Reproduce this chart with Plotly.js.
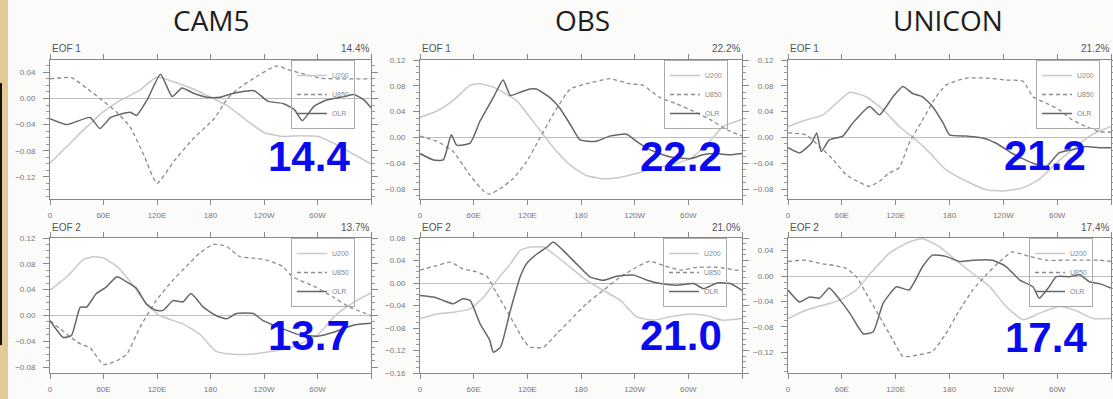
<!DOCTYPE html>
<html>
<head>
<meta charset="utf-8">
<script src="https://cdn.plot.ly/plotly-3.0.1.min.js"></script>
<style>
  html, body { margin: 0; padding: 0; background: #fbfbfa; }
  #chart { width: 1113px; height: 399px; }
</style>
</head>
<body>
<div id="chart"></div>
<script>
// ---------------- DATA ----------------
const panelTitles = ["CAM5", "OBS", "UNICON"];
const eofLabels = ["EOF 1", "EOF 2"];
const percentTexts = ["14.4%", "22.2%", "21.2%", "13.7%", "21.0%", "17.4%"];
const bigNumbers = ["14.4", "22.2", "21.2", "13.7", "21.0", "17.4"];
const seriesNames = ["U200", "U850", "OLR"];
const lonTickVals = [0, 60, 120, 180, 240, 300, 360];
const lonTickText = ["0", "60E", "120E", "180", "120W", "60W", ""];

// CAM5 EOF1
const cam5Eof1U200Lon = [0,20,40,60,80,100,120,140,160,180,200,220,240,260,280,300,320,340,360];
const cam5Eof1U200 = [-0.099,-0.072,-0.045,-0.02,-0.002,0.012,0.033,0.025,0.015,0.002,-0.012,-0.033,-0.052,-0.058,-0.057,-0.058,-0.07,-0.085,-0.1];
const cam5Eof1U850Lon = [0,24,41,56,75,90,105,120,139,161,184,199,214,232,247,255,270,289,304,330,360];
const cam5Eof1U850 = [0.03,0.032,0.016,0,-0.021,-0.044,-0.086,-0.13,-0.096,-0.061,-0.031,0,0.018,0.034,0.046,0.05,0.043,0.036,0.031,0.03,0.03];
const cam5Eof1OlrLon = [0,19,45,56,68,79,90,97,109,124,137,148,161,176,191,206,229,244,262,274,283,296,311,330,341,352,360];
const cam5Eof1Olr = [-0.031,-0.04,-0.029,-0.046,-0.029,-0.024,-0.021,-0.026,-0.002,0.037,0.003,0.016,0.008,0.002,0.002,0.008,0.012,-0.004,-0.008,-0.017,-0.034,-0.012,-0.002,0.003,0.006,-0.002,-0.014];

// OBS EOF1
const obsEof1U200Lon = [0,19,37,56,67,82,93,108,123,138,153,168,186,205,223,242,261,279,302,324,339,360];
const obsEof1U200 = [0.031,0.041,0.057,0.081,0.083,0.078,0.07,0.057,0.031,0.004,-0.022,-0.043,-0.059,-0.064,-0.062,-0.056,-0.048,-0.043,-0.033,-0.006,0.017,0.028];
const obsEof1U850Lon = [0,19,37,56,71,78,89,104,119,134,149,168,186,212,235,249,268,287,305,324,343,360];
const obsEof1U850 = [0.002,-0.006,-0.022,-0.059,-0.083,-0.088,-0.08,-0.064,-0.038,-0.001,0.036,0.075,0.083,0.091,0.083,0.081,0.062,0.052,0.041,0.028,0.012,0.002];
const obsEof1OlrLon = [0,15,26,35,41,56,67,82,93,101,112,123,130,145,156,168,179,197,212,231,242,257,279,302,316,331,346,360];
const obsEof1Olr = [-0.025,-0.035,-0.035,0.004,-0.012,-0.009,0.025,0.062,0.089,0.065,0.07,0.075,0.075,0.062,0.046,0.02,-0.004,-0.006,0.002,0.005,-0.006,-0.019,-0.03,-0.033,-0.027,-0.025,-0.027,-0.025];

// UNICON EOF1
const uniEof1U200Lon = [0,20,39,58,69,87,106,124,143,158,176,199,221,239,262,280,299,317,336,347,360];
const uniEof1U200 = [0.017,0.027,0.035,0.058,0.07,0.063,0.043,0.017,-0.004,-0.024,-0.05,-0.068,-0.081,-0.083,-0.078,-0.065,-0.04,-0.019,0.002,0.01,0.017];
const uniEof1U850Lon = [0,20,35,50,65,80,91,102,113,124,135,150,165,176,199,221,243,262,273,288,302,317,332,347,360];
const uniEof1U850 = [0.007,0.004,-0.014,-0.034,-0.058,-0.07,-0.076,-0.068,-0.055,-0.047,-0.009,0.027,0.063,0.081,0.092,0.092,0.089,0.087,0.063,0.053,0.043,0.027,0.017,0.009,0.008];
const uniEof1OlrLon = [0,13,26,32,37,46,61,72,91,102,117,128,139,150,161,173,180,199,217,232,250,273,288,302,317,332,347,360];
const uniEof1Olr = [-0.016,-0.024,-0.009,0.007,-0.022,-0.004,0.002,0.022,0.048,0.035,0.063,0.079,0.068,0.063,0.048,0.022,0.004,0.002,-0.001,-0.009,-0.025,-0.04,-0.045,-0.024,-0.019,-0.014,-0.016,-0.016];

// CAM5 EOF2
const cam5Eof2U200Lon = [0,19,37,48,60,75,93,108,123,149,168,186,205,224,242,270,300,320,340,360];
const cam5Eof2U200 = [0.039,0.06,0.086,0.091,0.089,0.076,0.047,0.018,0,-0.013,-0.029,-0.055,-0.06,-0.06,-0.057,-0.05,-0.03,0.0,0.02,0.035];
const cam5Eof2U850Lon = [0,19,34,45,60,75,86,101,119,138,153,168,183,198,213,228,242,261,272,298,317,336,360];
const cam5Eof2U850 = [-0.008,-0.029,-0.044,-0.05,-0.076,-0.07,-0.06,-0.018,0.023,0.055,0.076,0.097,0.11,0.107,0.091,0.089,0.086,0.076,0.06,0.044,0.029,0.013,0];
const cam5Eof2OlrLon = [0,15,24,34,41,52,63,75,86,97,108,119,127,138,149,158,172,186,198,209,228,239,260,280,300,320,340,360];
const cam5Eof2Olr = [-0.008,-0.034,-0.031,0.013,0.013,0.034,0.044,0.06,0.052,0.042,0.018,0.008,0.008,0.023,0.021,0.034,0.013,0,-0.005,0.003,0.003,-0.008,-0.02,-0.03,-0.032,-0.025,-0.015,-0.012];

// OBS EOF2
const obsEof2U200Lon = [0,19,37,56,71,86,101,112,123,138,149,168,186,205,224,242,261,280,302,320,339,360];
const obsEof2U200 = [-0.063,-0.055,-0.052,-0.046,-0.025,0.005,0.034,0.058,0.064,0.064,0.052,0.028,0.005,-0.013,-0.031,-0.06,-0.066,-0.06,-0.055,-0.058,-0.066,-0.063];
const obsEof2U850Lon = [0,19,34,48,63,75,86,101,116,123,138,153,168,186,205,224,242,257,272,291,310,332,354,360];
const obsEof2U850 = [0.023,0.031,0.037,0.025,0.02,0.011,-0.019,-0.06,-0.102,-0.114,-0.114,-0.09,-0.066,-0.037,-0.013,0.011,0.028,0.039,0.031,0.023,0.028,0.028,0.023,0.022];
const obsEof2OlrLon = [0,15,26,37,48,56,67,78,82,90,101,112,119,131,142,149,160,175,190,205,220,239,254,269,287,306,317,332,347,360];
const obsEof2Olr = [-0.022,-0.025,-0.031,-0.037,-0.028,-0.031,-0.072,-0.102,-0.123,-0.114,-0.049,0.011,0.034,0.052,0.064,0.073,0.058,0.034,0.011,0.005,0.012,0.014,0.005,-0.001,-0.004,-0.001,-0.01,0,-0.001,-0.013];

// UNICON EOF2
const uniEof2U200Lon = [0,20,39,58,76,95,113,132,150,169,187,206,225,243,262,280,302,320,340,360];
const uniEof2U200 = [-0.067,-0.054,-0.046,-0.038,-0.022,0.009,0.036,0.052,0.059,0.046,0.025,0.004,-0.017,-0.048,-0.069,-0.059,-0.048,-0.054,-0.067,-0.067];
const uniEof2U850Lon = [0,20,35,50,65,76,87,102,117,128,143,161,176,191,206,221,236,250,269,288,306,328,347,360];
const uniEof2U850 = [0.023,0.025,0.02,0.017,0.012,-0.001,-0.027,-0.064,-0.101,-0.127,-0.125,-0.119,-0.091,-0.054,-0.022,0.002,0.023,0.038,0.031,0.025,0.025,0.025,0.025,0.023];
const uniEof2OlrLon = [0,13,24,35,46,58,69,84,95,106,121,135,150,161,176,191,206,228,243,258,273,280,291,299,314,325,336,347,360];
const uniEof2Olr = [-0.022,-0.041,-0.033,-0.035,-0.019,-0.038,-0.059,-0.091,-0.088,-0.043,-0.017,-0.022,0.015,0.033,0.031,0.023,0.025,0.025,0.015,-0.006,-0.017,-0.035,-0.017,-0.001,-0.001,0.002,-0.009,-0.012,-0.019];

// Y ranges / ticks per panel (left axis units)
const yRanges = [[-0.154, 0.059], [-0.0955, 0.12], [-0.0955, 0.12], [-0.089, 0.12], [-0.16, 0.08], [-0.153, 0.06]];
const yTickVals = [
  [-0.12, -0.08, -0.04, 0, 0.04],
  [-0.08, -0.04, 0, 0.04, 0.08, 0.12],
  [-0.08, -0.04, 0, 0.04, 0.08, 0.12],
  [-0.08, -0.04, 0, 0.04, 0.08, 0.12],
  [-0.16, -0.12, -0.08, -0.04, 0, 0.04, 0.08],
  [-0.12, -0.08, -0.04, 0, 0.04]
];

// ---------------- LAYOUT HELPERS ----------------
const W = 1113, H = 399;
const px = v => v / W;
const py = v => 1 - v / H;

const panelX = [[50, 371], [420, 742], [788, 1111]];
const rowY = [[60, 199], [238, 373]];
const legendRight = [355, 728, 1100, 355, 727, 1093];
const bigNumPos = [[309, 156], [681, 156], [1045, 155], [309, 335], [681, 335], [1046, 337]];

const panelData = [
  [[cam5Eof1U200Lon, cam5Eof1U200], [cam5Eof1U850Lon, cam5Eof1U850], [cam5Eof1OlrLon, cam5Eof1Olr]],
  [[obsEof1U200Lon, obsEof1U200], [obsEof1U850Lon, obsEof1U850], [obsEof1OlrLon, obsEof1Olr]],
  [[uniEof1U200Lon, uniEof1U200], [uniEof1U850Lon, uniEof1U850], [uniEof1OlrLon, uniEof1Olr]],
  [[cam5Eof2U200Lon, cam5Eof2U200], [cam5Eof2U850Lon, cam5Eof2U850], [cam5Eof2OlrLon, cam5Eof2Olr]],
  [[obsEof2U200Lon, obsEof2U200], [obsEof2U850Lon, obsEof2U850], [obsEof2OlrLon, obsEof2Olr]],
  [[uniEof2U200Lon, uniEof2U200], [uniEof2U850Lon, uniEof2U850], [uniEof2OlrLon, uniEof2Olr]]
];

const lineStyles = [
  {color: "#c9c9c9", width: 1.5, dash: "solid", shape: "spline", smoothing: 0.5},
  {color: "#8c8c8c", width: 1.3, dash: "4px,3px", shape: "spline", smoothing: 0.5},
  {color: "#666666", width: 1.5, dash: "solid", shape: "spline", smoothing: 0.5}
];

const traces = [];
const layout = {
  width: W, height: H,
  margin: {l: 0, r: 0, t: 0, b: 0},
  paper_bgcolor: "#fbfbfa",
  plot_bgcolor: "#ffffff",
  font: {family: "Liberation Sans, Arial, sans-serif", color: "#777"},
  showlegend: true,
  annotations: [],
  shapes: []
};

for (let p = 0; p < 6; p++) {
  const col = p % 3, row = Math.floor(p / 3);
  const suffix = p === 0 ? "" : String(p + 1);
  const xa = "x" + suffix, ya = "y" + suffix;
  const legendId = p === 0 ? "legend" : "legend" + (p + 1);

  panelData[p].forEach((s, k) => {
    traces.push({
      type: "scatter", mode: "lines",
      x: s[0], y: s[1],
      name: seriesNames[k],
      xaxis: xa, yaxis: ya,
      legend: legendId,
      line: lineStyles[k],
      hoverinfo: "skip"
    });
  });

  layout["xaxis" + suffix] = {
    domain: [px(panelX[col][0]), px(panelX[col][1])],
    anchor: ya,
    range: [0, 360],
    tickvals: lonTickVals, ticktext: lonTickText,
    ticks: "outside", ticklen: 5, tickwidth: 1, tickcolor: "#888",
    ticklabelstandoff: 3,
    showline: true, linecolor: "#888", linewidth: 1, mirror: "ticks",
    showgrid: false, zeroline: false,
    tickfont: {size: 8, color: "#777"},
    fixedrange: true
  };
  layout["yaxis" + suffix] = {
    domain: [py(rowY[row][1]), py(rowY[row][0])],
    anchor: xa,
    range: yRanges[p],
    tickvals: yTickVals[p],
    tickformat: ".2f",
    ticks: "outside", ticklen: 6, tickwidth: 1, tickcolor: "#888",
    ticklabelstandoff: 6,
    minor: {ticks: "outside", ticklen: 3, dtick: 0.01, tickcolor: "#999"},
    showline: true, linecolor: "#888", linewidth: 1, mirror: "ticks",
    showgrid: false,
    zeroline: true, zerolinecolor: "#bdbdbd", zerolinewidth: 1,
    tickfont: {size: 8, color: "#777"},
    fixedrange: true
  };

  layout[legendId] = {
    x: px(legendRight[p]), xanchor: "right",
    y: py(rowY[row][0]), yanchor: "top",
    bgcolor: "rgba(255,255,255,0)",
    bordercolor: "#aaa", borderwidth: 1,
    font: {size: 7, color: "#888"},
    itemwidth: 30,
    tracegroupgap: 0
  };

  // EOF label and percentage
  layout.annotations.push({
    xref: "paper", yref: "paper",
    x: px(panelX[col][0]), y: py(rowY[row][0] - 11),
    xanchor: "left", yanchor: "middle",
    text: eofLabels[row], showarrow: false,
    font: {size: 10, color: "#555"}
  });
  layout.annotations.push({
    xref: "paper", yref: "paper",
    x: px(panelX[col][1]), y: py(rowY[row][0] - 11),
    xanchor: "right", yanchor: "middle",
    text: percentTexts[p], showarrow: false,
    font: {size: 10, color: "#555"}
  });
  // big blue number
  layout.annotations.push({
    xref: "paper", yref: "paper",
    x: px(bigNumPos[p][0]), y: py(bigNumPos[p][1]),
    xanchor: "center", yanchor: "middle",
    text: "<b>" + bigNumbers[p] + "</b>", showarrow: false,
    font: {size: 42, color: "#0a0af0", family: "Liberation Sans, Arial, sans-serif"}
  });
}

// column titles (kept fully inside the top edge)
const titleCenters = [211, 582, 948];
panelTitles.forEach((t, i) => {
  layout.annotations.push({
    xref: "paper", yref: "paper",
    x: px(titleCenters[i]), y: 1,
    xanchor: "center", yanchor: "top",
    text: t, showarrow: false,
    borderpad: 0,
    font: {size: 28, color: "#1e1e1e", family: "Open Sans, sans-serif"}
  });
});

// decorative parchment strip and dark frame line on the left edge
layout.shapes.push({
  type: "rect", xref: "paper", yref: "paper",
  x0: 0, x1: px(8), y0: 0, y1: 1,
  fillcolor: "#e3c994", line: {width: 0}, layer: "below"
});
layout.shapes.push({
  type: "rect", xref: "paper", yref: "paper",
  x0: 0, x1: px(2), y0: py(345), y1: py(83),
  fillcolor: "#111", line: {width: 0}, layer: "above"
});

Plotly.newPlot("chart", traces, layout, {staticPlot: true, displayModeBar: false});
</script>
</body>
</html>
